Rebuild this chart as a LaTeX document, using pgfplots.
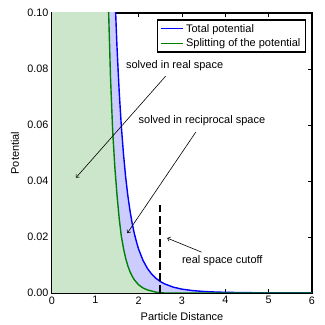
\documentclass[border=0pt]{standalone}
\usepackage{fontspec}
\setmainfont{Liberation Sans}
\usepackage{pgfplots}
\pgfplotsset{compat=1.18}
\usetikzlibrary{arrows.meta}
\definecolor{mplblue}{RGB}{0,0,255}
\definecolor{mplgreen}{RGB}{0,128,0}
\definecolor{bluefill}{RGB}{204,204,255}
\definecolor{greenfill}{RGB}{204,230,204}

\begin{document}
\begin{tikzpicture}
\begin{axis}[
  scale only axis,
  width=260pt, height=280pt,
  xmin=0, xmax=6, ymin=0, ymax=0.1,
  xtick={0,1,...,6},
  ytick={0,0.02,0.04,0.06,0.08,0.1},
  scaled y ticks=false,
  yticklabel style={/pgf/number format/.cd, fixed, fixed zerofill, precision=2},
  /pgf/number format/assume math mode=true,
  tick align=inside,
  major tick length=4pt,
  tick style={black, line width=0.7pt},
  axis line style={black, line width=1.2pt},
  tick label style={font=\fontsize{10.8}{12}\selectfont},
  label style={font=\fontsize{11}{13}\selectfont},
  xlabel={Particle Distance},
  ylabel={Potential},
  xlabel style={at={(axis description cs:0.5,-0.0857)}, anchor=center},
  ylabel style={at={(axis description cs:-0.1423,0.5)}, anchor=center},
  legend cell align=left,
  legend image code/.code={\draw[#1] (0pt,0pt) -- (22pt,0pt);},
  legend style={at={(axis description cs:1,1)}, anchor=north east,
    xshift=-6pt, yshift=-6.5pt, draw=black, line width=1.1pt,
    font=\fontsize{11}{13}\selectfont, inner xsep=3pt, inner ysep=2pt,
    row sep=1pt},
]
% blue fill (under total potential), covered below by the green fill
\addplot[fill=bluefill, draw=none, forget plot] coordinates {
  (0,3) (1.0,1.0) (1.2,0.335) (1.3,0.207) (1.35,0.165) (1.4,0.1328) (1.45,0.1076)
  (1.5,0.0878) (1.55,0.0721) (1.6,0.0596) (1.65,0.0496) (1.7,0.0414)
  (1.75,0.0348) (1.8,0.0294) (1.85,0.0249) (1.9,0.02125) (1.95,0.0182) (2.0,0.0156)
  (2.1,0.01166) (2.2,0.00882) (2.3,0.00676) (2.4,0.00523) (2.5,0.0041)
  (2.6,0.00324) (2.8,0.00208) (3.0,0.00137) (3.25,0.00085) (3.5,0.000544)
  (3.75,0.00036) (4.0,0.000244) (4.5,0.00012) (5.0,0.000064) (5.5,0.000036)
  (6.0,0.0000214)
} \closedcycle;
% green fill (under splitting)
\addplot[fill=greenfill, draw=none, forget plot] coordinates {
  (0,3) (1.0,1.0) (1.2,0.19) (1.25,0.14) (1.3,0.104) (1.35,0.077) (1.4,0.058)
  (1.45,0.045) (1.5,0.035) (1.55,0.0267) (1.6,0.0203) (1.65,0.0159)
  (1.7,0.0124) (1.75,0.0097) (1.8,0.0076) (1.85,0.006) (1.9,0.0047) (2.0,0.0029)
  (2.1,0.0018) (2.2,0.0011) (2.3,0.0007) (2.4,0.0003) (2.5,0.0001) (2.6,0.0)
  (6.0,0.0)
} \closedcycle;
% total potential
\addplot[mplblue, line width=1.4pt] coordinates {
  (0,3) (1.0,1.0) (1.2,0.335) (1.3,0.207) (1.35,0.165) (1.4,0.1328) (1.45,0.1076)
  (1.5,0.0878) (1.55,0.0721) (1.6,0.0596) (1.65,0.0496) (1.7,0.0414)
  (1.75,0.0348) (1.8,0.0294) (1.85,0.0249) (1.9,0.02125) (1.95,0.0182) (2.0,0.0156)
  (2.1,0.01166) (2.2,0.00882) (2.3,0.00676) (2.4,0.00523) (2.5,0.0041)
  (2.6,0.00324) (2.8,0.00208) (3.0,0.00137) (3.25,0.00085) (3.5,0.000544)
  (3.75,0.00036) (4.0,0.000244) (4.5,0.00012) (5.0,0.000064) (5.5,0.000036)
  (6.0,0.0000214)
};
\addlegendentry{Total potential}
% splitting
\addplot[mplgreen, line width=1.4pt] coordinates {
  (0,3) (1.0,1.0) (1.2,0.19) (1.25,0.14) (1.3,0.104) (1.35,0.077) (1.4,0.058)
  (1.45,0.045) (1.5,0.035) (1.55,0.0267) (1.6,0.0203) (1.65,0.0159)
  (1.7,0.0124) (1.75,0.0097) (1.8,0.0076) (1.85,0.006) (1.9,0.0047) (2.0,0.0029)
  (2.1,0.0018) (2.2,0.0011) (2.3,0.0007) (2.4,0.0003) (2.5,0.0001) (2.6,0.0)
  (6.0,0.0)
};
\addlegendentry{Splitting of the potential}
% cutoff
\addplot[black, line width=1.8pt, dash pattern=on 8pt off 3.5pt, forget plot]
  coordinates {(2.5,0) (2.5,0.0313)};

% annotations
\begin{scope}[font=\fontsize{11}{13}\selectfont]
\node at (axis cs:2.83,0.0813) {solved in real space};
\draw[line width=0.6pt, -{To[length=3pt,width=5pt]}] (axis cs:2.62,0.0774) -- (axis cs:0.554,0.0412);
\node at (axis cs:3.46,0.0614) {solved in reciprocal space};
\draw[line width=0.6pt, -{To[length=3pt,width=5pt]}] (axis cs:3.32,0.0575) -- (axis cs:1.74,0.0214);
\node at (axis cs:3.93,0.0117) {real space cutoff};
\draw[line width=0.6pt, -{To[length=3pt,width=5pt]}] (axis cs:3.45,0.0146) -- (axis cs:2.66,0.0196);
\end{scope}
\end{axis}
\pgfresetboundingbox
\path ([shift={(-52pt,-32pt)}]current axis.south west) rectangle ([shift={(13pt,13pt)}]current axis.north east);
\end{tikzpicture}
\end{document}
